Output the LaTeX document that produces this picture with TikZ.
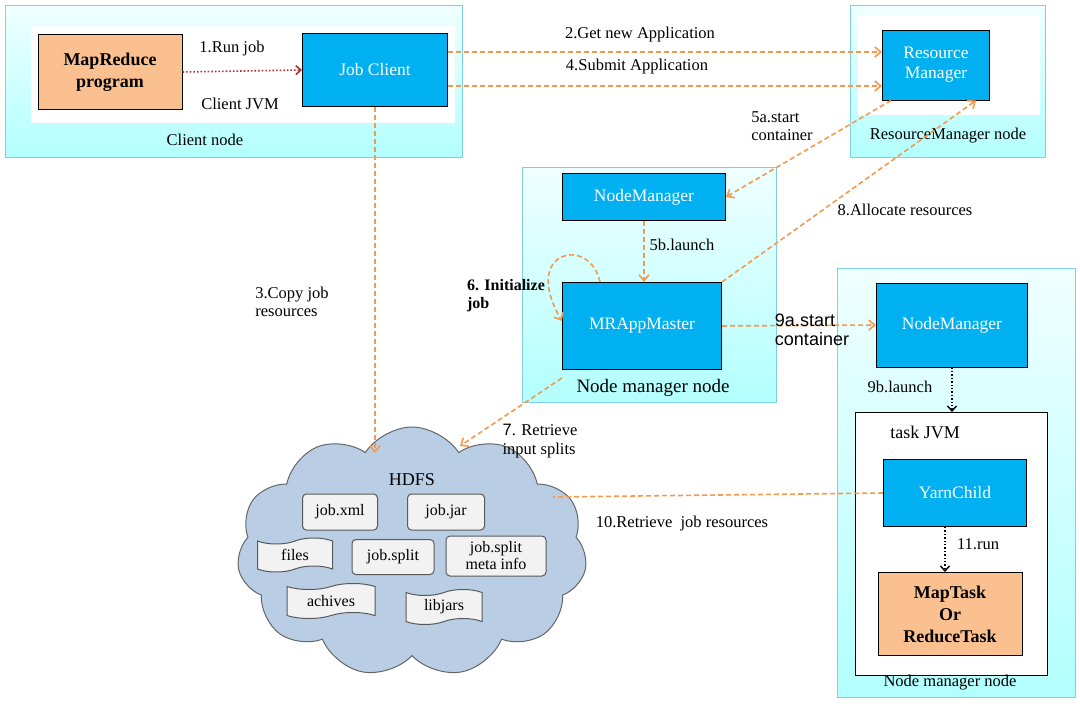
\documentclass[tikz,border=0pt]{standalone}
\usepackage{fontspec}
\setmainfont{Liberation Serif}
\newfontfamily\sansf{Liberation Sans}
\usetikzlibrary{shapes.symbols,arrows.meta}
\definecolor{cy}{HTML}{00B0F0}
\definecolor{org}{HTML}{FAC090}
\definecolor{oarr}{HTML}{F39A4F}
\definecolor{bord}{HTML}{7FCFE0}
\definecolor{cloudc}{HTML}{B9CDE5}
\begin{document}
\begin{tikzpicture}[x=1pt,y=-1pt,
 txt/.style={font=\fontsize{16.5}{18.5}\selectfont,align=center,inner sep=1pt},
 area/.style={draw=bord,line width=1pt,top color=cyan!6,bottom color=cyan!30},
 blue/.style={draw=black,line width=1pt,fill=cy,text=white,font=\fontsize{17.5}{20}\selectfont,align=center},
 orb/.style={draw=black,line width=1pt,fill=org,font=\bfseries\fontsize{18}{22}\selectfont,align=center},
 oa/.style={draw=oarr,line width=1.6pt,dash pattern=on 5pt off 3pt,-{Straight Barb[length=6pt,width=10pt]}},
 ka/.style={draw=black,line width=1.4pt,dotted,-{Straight Barb[length=5pt,width=9pt]}},
 file/.style={draw=black!65,line width=1pt,fill=black!5,rounded corners=4pt,font=\fontsize{16}{17}\selectfont,align=center,inner sep=0pt},
 flag/.style={tape,draw=black!65,line width=1pt,fill=black!5,font=\fontsize{16}{17}\selectfont,inner sep=0pt,tape bend top=in and out,tape bend bottom=in and out,tape bend height=6pt}]
\useasboundingbox (0,0) rectangle (1080,705);
% areas
\draw[area] (5,5) rectangle (462,157);
\fill[white] (31,26) rectangle (455,123);
\node[txt] (cnl) at (205,140) {Client node};
\draw[area] (850,5) rectangle (1045,157);
\fill[white] (858,15) rectangle (1040,115);
\node[txt] (rml) at (948,136) {ResourceManager node};
\draw[area] (522,167) rectangle (776,402);
\node[txt,font=\fontsize{19}{21}\selectfont] (nml) at (653,388) {Node manager node};
\draw[area] (837,268) rectangle (1075,697);
\draw[black,line width=1pt,fill=white] (855,412) rectangle (1047,675);
\node[txt,font=\fontsize{18}{20}\selectfont] (tjl) at (925,432) {task JVM};
\node[txt] (nml2) at (950,683) {Node manager node};
% boxes
\node[orb,minimum width=144pt,minimum height=75pt] (mr) at (110,72) {MapReduce\\program};
\node[blue,minimum width=145pt,minimum height=73pt] (jc) at (375,70) {Job Client};
\node[blue,minimum width=107pt,minimum height=70pt] (rm) at (936,65) {Resource\\Manager};
\node[blue,minimum width=163pt,minimum height=47pt] (nm1) at (644,197) {NodeManager};
\node[blue,minimum width=159pt,minimum height=87pt] (ma) at (642,326) {MRAppMaster};
\node[blue,minimum width=151pt,minimum height=84pt] (nm2) at (952,325) {NodeManager};
\coordinate (tj) at (952,412);
\node[blue,minimum width=143pt,minimum height=67pt] (yc) at (955,493) {YarnChild};
\node[orb,minimum width=144pt,minimum height=83pt] (mt) at (950,614) {MapTask\\Or\\ReduceTask};
% cloud
\node[cloud,cloud puffs=11,cloud puff arc=115,aspect=1.5,draw=black!60,line width=1pt,fill=cloudc,minimum width=350pt,minimum height=250pt] (hdfs) at (412,552) {};
\node[txt,font=\fontsize{18}{20}\selectfont] (hl) at (412,480) {HDFS};
\node[file,minimum width=75pt,minimum height=36pt] (jx) at (340,512) {job.xml};
\node[file,minimum width=77pt,minimum height=36pt] (jj) at (446,512) {job.jar};
\node[file,minimum width=82pt,minimum height=35pt] (js) at (393,557) {job.split};
\node[file,minimum width=100pt,minimum height=40pt] (jm) at (496,556) {job.split\\meta info};
\node[flag,minimum width=75pt,minimum height=34pt] (fi) at (295,555) {files};
\node[flag,minimum width=88pt,minimum height=35pt] (ac) at (331,601) {achives};
\node[flag,minimum width=76pt,minimum height=35pt] (lj) at (444,607) {libjars};
% arrows
\draw[draw=red!60!black!80,line width=1.6pt,dotted,-{Straight Barb[length=5pt,width=9pt]}] (mr.east) -- (jc.west);
\node[txt] (l1) at (232,49) {1.Run job};
\node[txt] (lc) at (240,104) {Client JVM};
\coordinate (a2) at ([yshift=18pt]jc.east);
\coordinate (a4) at ([yshift=-16pt]jc.east);
\draw[oa] (a2) -- (a2 -| rm.west);
\node[txt] (l2) at (640,35) {2.Get new Application};
\draw[oa] (a4) -- (a4 -| rm.west);
\node[txt] (l4) at (637,67) {4.Submit Application};
\draw[oa] ([xshift=-45pt]rm.south) -- (nm1.east);
\node[txt,align=left] (l5a) at (782,126) {5a.start\\container};
\draw[oa] (nm1.south) -- ([xshift=2pt]ma.north);
\node[txt] (l5b) at (682,245) {5b.launch};
\draw[oa] (ma.north east) -- ([xshift=40pt]rm.south);
\node[txt] (l8) at (905,210) {8.Allocate resources};
\draw[oa] ([xshift=-42pt]ma.north) .. controls (590,235) and (520,250) .. ([yshift=5pt]ma.west);
\node[txt,font=\bfseries\fontsize{16}{18}\selectfont,align=left] (l6) at (506,296) {6. Initialize\\job};
\draw[oa] (ma.east) -- (nm2.west);
\node[txt,font=\sansf\fontsize{18}{19}\selectfont,align=left] (l9a) at (812,330) {9a.start\\container};
\draw[ka] (nm2.south) -- (tj);
\node[txt] (l9b) at (900,387) {9b.launch};
\draw[ka] ([xshift=-10pt]yc.south) -- ([xshift=-5pt]mt.north);
\node[txt] (l11) at (978,544) {11.run};
\draw[oa] (jc.south) -- (375,453);
\node[txt,align=left] (l3) at (292,302) {3.Copy job\\resources};
\draw[oa] ([yshift=-8pt]ma.south west) -- (460,446);
\node[txt,align=left] (l7) at (540,441) {{\sansf 7}. Retrieve\\input splits};
\draw[draw=oarr,line width=1.6pt,dash pattern=on 5pt off 3pt] (yc.west) -- (553,497);
\node[txt] (l10) at (682,524) {10.Retrieve\ \ job resources};
\end{tikzpicture}
\end{document}
